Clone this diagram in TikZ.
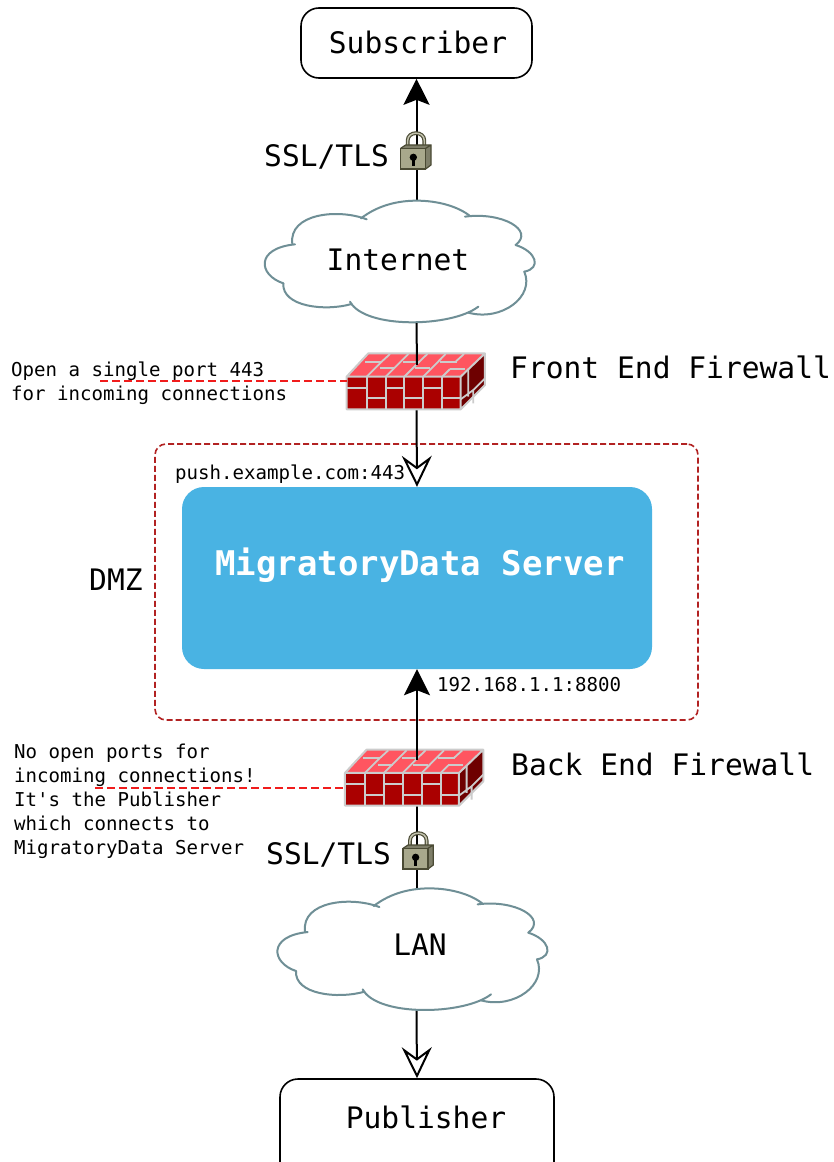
\documentclass[tikz,border=0pt]{standalone}
\usepackage{fontspec}
\setmainfont[Ligatures=TeXOff]{DejaVu Sans Mono}
\usetikzlibrary{arrows.meta}
\definecolor{cloudc}{HTML}{6F8F96}
\definecolor{dmzc}{HTML}{B22222}
\definecolor{srvc}{HTML}{49B3E3}
\definecolor{brickf}{HTML}{AA0000}
\definecolor{brickt}{HTML}{FF5560}
\definecolor{bricks}{HTML}{6E0000}
\definecolor{mortar}{HTML}{CCCCCC}
\definecolor{lockb}{HTML}{A8A88C}
\definecolor{lockd}{HTML}{4A4A34}
\definecolor{redl}{HTML}{F01C1C}
\tikzset{
  big/.style={font=\fontsize{29.6}{32}\selectfont,inner sep=0pt},
  small/.style={font=\fontsize{19.1}{24}\selectfont,inner sep=0pt,align=left},
  box/.style={draw=black,line width=1.6pt,rounded corners=18pt,fill=white},
  conn/.style={draw=black,line width=2pt},
  solidtip/.style={-{Stealth[length=26pt,width=26pt,inset=5pt]}},
  opentip/.style={-{Stealth[length=31pt,width=30pt,inset=11pt,fill=white]}},
  redline/.style={draw=redl,line width=1.8pt,dash pattern=on 8pt off 4pt},
  hit/.style={inner sep=0pt},
  pics/cloudshape/.style={code={
    \begin{scope}[x=0.3333pt,y=-0.3333pt]
    \fill[white] (318,85) .. controls (370,45) and (430,32) .. (485,32) .. controls (550,32) and (610,50) .. (645,78)
      .. controls (740,75) and (830,120) .. (782,165) .. controls (830,180) and (870,225) .. (808,245)
      .. controls (840,320) and (740,395) .. (640,368) .. controls (580,405) and (330,418) .. (285,335)
      .. controls (210,365) and (80,350) .. (85,280) .. controls (20,255) and (0,175) .. (115,163)
      .. controls (100,90) and (240,45) .. (318,85) -- cycle;
    \begin{scope}[draw=cloudc,line width=2pt,line cap=round]
    \draw (318,85) .. controls (370,45) and (430,32) .. (485,32) .. controls (550,32) and (610,50) .. (645,78);
    \draw (630,80) .. controls (740,65) and (840,120) .. (782,165);
    \draw (782,165) .. controls (845,185) and (860,235) .. (808,245);
    \draw (808,245) .. controls (840,320) and (740,395) .. (640,368);
    \draw (670,350) .. controls (590,412) and (330,418) .. (285,335);
    \draw (290,342) .. controls (210,365) and (80,350) .. (85,280);
    \draw (85,280) .. controls (10,255) and (0,175) .. (120,163);
    \draw (112,162) .. controls (100,70) and (250,55) .. (335,88);
    \end{scope}
    \end{scope}
  }},
  pics/wall/.style={code={
    \begin{scope}[x=0.3333pt,y=-0.3333pt]
    \fill[brickf] (20,110) rectangle (362,208);
    \fill[brickt] (20,110) -- (85,40) -- (435,40) -- (362,110) -- cycle;
    \fill[bricks] (362,110) -- (435,40) -- (435,135) -- (362,208) -- cycle;
    \begin{scope}[draw=mortar,line width=1.8pt]
    \draw (80,110) -- (80,208) (137,110) -- (137,208) (193,110) -- (193,208) (250,110) -- (250,208) (307,110) -- (307,208);
    \draw (20,143) -- (80,143) (137,143) -- (193,143) (250,143) -- (307,143);
    \draw (80,175) -- (137,175) (193,175) -- (250,175) (307,175) -- (362,175);
    \draw (80,110) -- (125,65) (137,110) -- (205,42) (193,110) -- (237,66) (250,110) -- (317,42) (307,110) -- (330,87);
    \draw (125,65) -- (150,42) (237,66) -- (262,42) (348,64) -- (372,42);
    \draw (75,65) -- (125,65) (120,85) -- (163,85) (190,65) -- (240,65) (225,85) -- (270,85) (300,65) -- (350,65) (330,87) -- (375,87);
    \draw (385,170) -- (385,88) (362,178) -- (400,150) -- (435,115) (400,150) -- (400,190);
    \end{scope}
    \draw[mortar,line width=2pt,line join=round] (20,110) -- (85,40) -- (435,40) -- (435,135) -- (362,208) -- (20,208) -- cycle (20,110) -- (362,110) -- (435,40) (362,110) -- (362,208);
    \end{scope}
  }},
  pics/padlock/.style={code={
    \begin{scope}[x=0.3333pt,y=-0.3333pt]
    \draw[lockd,line width=3.8pt] (68,235) -- (68,212) .. controls (68,182) and (118,182) .. (118,212) -- (118,232);
    \draw[lockb!70!white,line width=1.5pt] (68,235) -- (68,212) .. controls (68,182) and (118,182) .. (118,212) -- (118,232);
    \fill[lockb!75!black] (47,235) -- (62,225) -- (138,225) -- (138,285) -- (122,297) -- cycle;
    \fill[lockb,draw=lockd,line width=1.6pt] (47,235) rectangle (122,297);
    \draw[lockd,line width=1.2pt] (47,235) -- (62,225) -- (138,225) -- (138,285) -- (122,297) (122,235) -- (138,225);
    \fill[black] (85,262) circle (11);
    \fill[black] (81,262) rectangle (89,289);
    \end{scope}
  }}
}
\begin{document}
\begin{tikzpicture}[x=1pt,y=-1pt]
\useasboundingbox (0,0) rectangle (833,1162);
\clip (0,0) rectangle (833,1162);
\fill[white] (0,0) rectangle (833,1162);

% boxes
\node[box,minimum width=231pt,minimum height=70pt,big] (sub) at (416.5,43) {};
\node[big] (subt) at (418,42) {Subscriber};
\node[box,minimum width=274pt,minimum height=130pt,big] (pub) at (417,1144) {};
\node[big] (pubt) at (426,1117) {Publisher};

\node[draw=dmzc,line width=1.6pt,dash pattern=on 6pt off 3pt,rounded corners=11pt,minimum width=543pt,minimum height=276pt,inner sep=0pt] (dmz) at (426.5,582) {};
\node[fill=srvc,rounded corners=22pt,minimum width=470pt,minimum height=182pt,inner sep=0pt] (srv) at (417,578) {};
\node[text=white,font=\fontsize{34}{36}\bfseries\selectfont,inner sep=0pt] (srvt) at (420,565) {MigratoryData Server};

% named anchors for the firewalls and clouds
\node[hit,minimum width=270pt,minimum height=122pt] (inet) at (400,262) {};
\node[hit,minimum width=270pt,minimum height=122pt] (lan) at (412.7,950) {};
\node[hit,minimum width=138pt,minimum height=56pt] (fwa) at (416,381) {};
\node[hit,minimum width=138pt,minimum height=57pt] (fwb) at (414,777.5) {};
\coordinate (fwain) at (417,365);
\coordinate (fwbin) at (417,760);

% lower connectors (hidden by walls and clouds)
\draw[conn,solidtip] (inet.north -| sub.south) -- (sub.south);
\draw[conn,opentip] (fwa.south -| sub.south) -- (fwain |- srv.north);
\draw[conn,opentip] (lan.south -| sub.south) -- (pub.north);
\draw[conn] (lan.north -| sub.south) -- (fwb.south -| sub.south);

% clouds
\pic at (255,190) {cloudshape};
\pic at (267.7,877.7) {cloudshape};
\node[big] (inett) at (398,260) {Internet};
\node[big] (lant) at (420,945) {LAN};

% firewalls
\pic at (340,340) {wall};
\pic at (338.3,736.3) {wall};
\draw[conn] (inet.south -| sub.south) -- (fwain);
\draw[conn,solidtip] (fwbin) -- (fwbin |- srv.south);

% padlocks
\pic at (385,70) {padlock};
\pic at (387.3,770) {padlock};

% labels
\node[big,anchor=west] (ssla) at (264,157) {SSL/TLS};
\node[big,anchor=west] (sslb) at (266,855) {SSL/TLS};
\node[big,anchor=west] (fwal) at (510,367) {Front End Firewall};
\node[big,anchor=west] (fwbl) at (511,764) {Back End Firewall};
\node[big,anchor=west] (dmzl) at (89,580) {DMZ};
\node[small,anchor=west] (pa) at (175,474) {push.example.com:443};
\node[small,anchor=west] (pb) at (437,684.5) {192.168.1.1:8800};
\node[small,anchor=north west] (na) at (11,361.5) {Open a single port 443\\for incoming connections};
\node[small,anchor=north west] (nb) at (14,744) {No open ports for\\incoming connections!\\It's the Publisher\\which connects to\\MigratoryData Server};
\coordinate (nae) at (100,381);
\coordinate (nbe) at (95,788);
\draw[redline] (nae) -- (nae -| fwa.west);
\draw[redline] (nbe) -- (nbe -| fwb.west);
\end{tikzpicture}
\end{document}
